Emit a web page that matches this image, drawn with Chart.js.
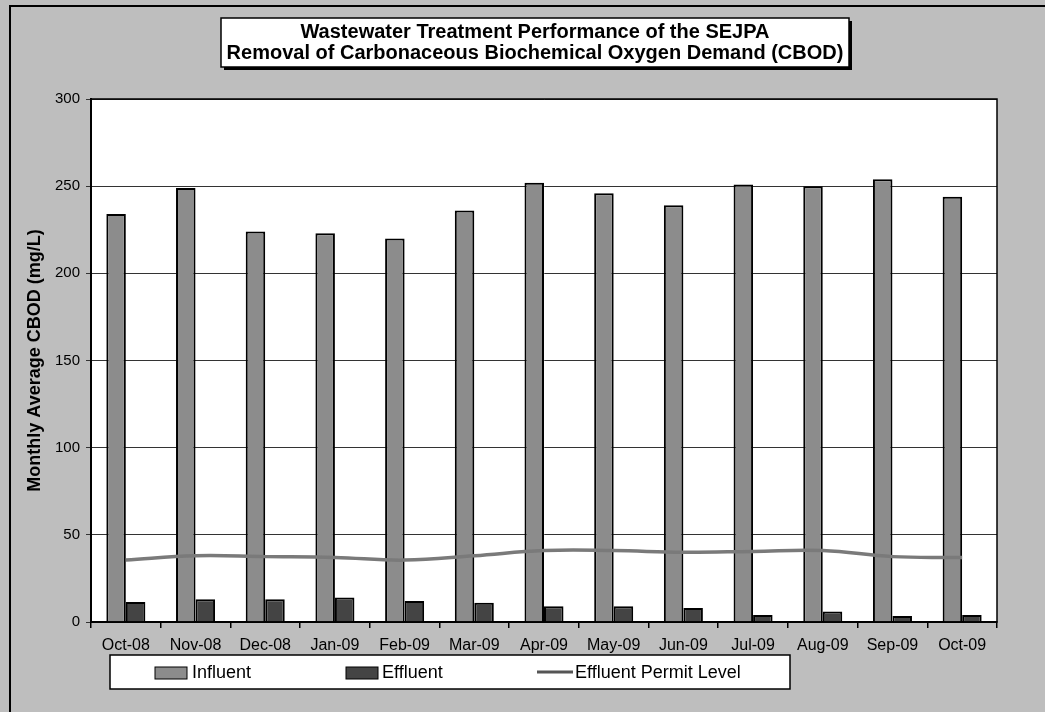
<!DOCTYPE html>
<html><head><meta charset="utf-8">
<script src="https://cdn.jsdelivr.net/npm/chart.js@4.4.1/dist/chart.umd.min.js"></script>
<style>html,body{margin:0;padding:0;background:#bebebe;overflow:hidden}#wrap{width:1045px;height:712px;position:relative}</style>
</head><body><div id="wrap"><canvas id="c" width="1045" height="712"></canvas></div>
<script>
const months = ['Oct-08','Nov-08','Dec-08','Jan-09','Feb-09','Mar-09','Apr-09','May-09','Jun-09','Jul-09','Aug-09','Sep-09','Oct-09'];
const influent = [234, 249, 224, 223, 220, 236, 252, 246, 239, 251, 250, 254, 244];
const effluent = [11.5, 13, 13, 14, 12, 11, 9, 9, 8, 4, 6, 3.5, 4];
const permitLevel = [35.5, 38, 37.5, 37, 35.5, 38, 41, 41, 40, 40.5, 41, 37.5, 37];
const yMin = 0, yMax = 300, yStep = 50;
const titleLines = ['Wastewater Treatment Performance of the SEJPA', 'Removal of Carbonaceous Biochemical Oxygen Demand (CBOD)'];
const yTitle = 'Monthly Average CBOD (mg/L)';
const seriesNames = ['Influent', 'Effluent', 'Effluent Permit Level'];

const FONT = "'Liberation Sans', Arial, sans-serif";

const deco = {
  id: 'deco',
  beforeDraw(chart) {
    const {ctx, chartArea: a} = chart;
    ctx.save();
    ctx.fillStyle = '#bebebe';
    ctx.fillRect(0, 0, chart.width, chart.height);
    ctx.fillStyle = '#ffffff';
    ctx.fillRect(a.left, a.top, a.right - a.left, a.bottom - a.top);
    ctx.restore();
  },
  afterDraw(chart) {
    const {ctx, chartArea: a} = chart;
    ctx.save();
    ctx.strokeStyle = '#000';
    ctx.lineWidth = 1.5;
    ctx.strokeRect(a.left, a.top, a.right - a.left, a.bottom - a.top);
    ctx.lineWidth = 2;
    ctx.beginPath();
    ctx.moveTo(10, 712); ctx.lineTo(10, 6); ctx.lineTo(1045, 6);
    ctx.stroke();
    // title box
    ctx.fillStyle = '#000';
    ctx.fillRect(224, 21, 628, 49);
    ctx.fillStyle = '#fff';
    ctx.fillRect(221, 18, 628, 49);
    ctx.lineWidth = 1.5;
    ctx.strokeRect(221, 18, 628, 49);
    ctx.fillStyle = '#000';
    ctx.font = 'bold 20px ' + FONT;
    ctx.textAlign = 'center';
    ctx.textBaseline = 'middle';
    ctx.fillText(titleLines[0], 535, 32);
    ctx.fillText(titleLines[1], 535, 53);
    // legend
    ctx.fillStyle = '#fff';
    ctx.fillRect(110, 655, 680, 34);
    ctx.strokeStyle = '#000';
    ctx.lineWidth = 1.5;
    ctx.strokeRect(110, 655, 680, 34);
    const ds = chart.data.datasets;
    const items = [
      {sx: 155, tx: 192, d: ds[0]},
      {sx: 346, tx: 382, d: ds[1]},
      {sx: 537, tx: 575, d: ds[2]}
    ];
    ctx.font = '18px ' + FONT;
    ctx.textAlign = 'left';
    ctx.textBaseline = 'middle';
    items.forEach((it, i) => {
      if (i < 2) {
        ctx.fillStyle = it.d.backgroundColor;
        ctx.fillRect(it.sx, 667, 32, 12);
        ctx.strokeStyle = '#000';
        ctx.lineWidth = 1;
        ctx.strokeRect(it.sx, 667, 32, 12);
      } else {
        ctx.strokeStyle = '#555';
        ctx.lineWidth = 3;
        ctx.beginPath();
        ctx.moveTo(it.sx, 672); ctx.lineTo(it.sx + 36, 672);
        ctx.stroke();
      }
      ctx.fillStyle = '#000';
      ctx.fillText(it.d.label, it.tx, 673);
    });
    ctx.restore();
  }
};

const chart = new Chart(document.getElementById('c'), {
  type: 'bar',
  data: {
    labels: months,
    datasets: [
      {label: seriesNames[0], data: influent, backgroundColor: '#8c8c8c', borderColor: '#000', borderWidth: 2, order: 2},
      {label: seriesNames[1], data: effluent, backgroundColor: '#444444', borderColor: '#000', borderWidth: 2, order: 2},
      {type: 'line', label: seriesNames[2], data: permitLevel, borderColor: '#7a7a7a', borderWidth: 3.5, pointRadius: 0, tension: 0.4, fill: false, order: 1}
    ]
  },
  options: {
    responsive: false,
    devicePixelRatio: 1,
    animation: false,
    layout: {padding: {left: 0, right: 48, top: 99, bottom: 50}},
    plugins: {legend: {display: false}, title: {display: false}, tooltip: {enabled: false}},
    datasets: {bar: {barPercentage: 1.0, categoryPercentage: 0.56}},
    scales: {
      x: {
        type: 'category',
        offset: true,
        grid: {display: true, drawOnChartArea: false, drawTicks: true, tickLength: 6, color: '#000', lineWidth: 1.5, offset: true},
        border: {display: true, color: '#000', width: 2},
        ticks: {font: {size: 16, family: FONT}, color: '#000', padding: 8, maxRotation: 0, autoSkip: false},
        afterFit(s) { s.height = 40; }
      },
      y: {
        min: yMin, max: yMax,
        ticks: {stepSize: yStep, font: {size: 15, family: FONT}, color: '#000', padding: 6},
        grid: {color: '#333', lineWidth: 1, tickLength: 5, drawTicks: true},
        border: {display: true, color: '#000', width: 2},
        title: {display: true, text: yTitle, font: {size: 18, weight: 'bold', family: FONT}, color: '#000', padding: {top: 24, bottom: 0}},
        afterFit(s) { s.width = 91; }
      }
    }
  },
  plugins: [deco]
});
</script>
</body></html>
